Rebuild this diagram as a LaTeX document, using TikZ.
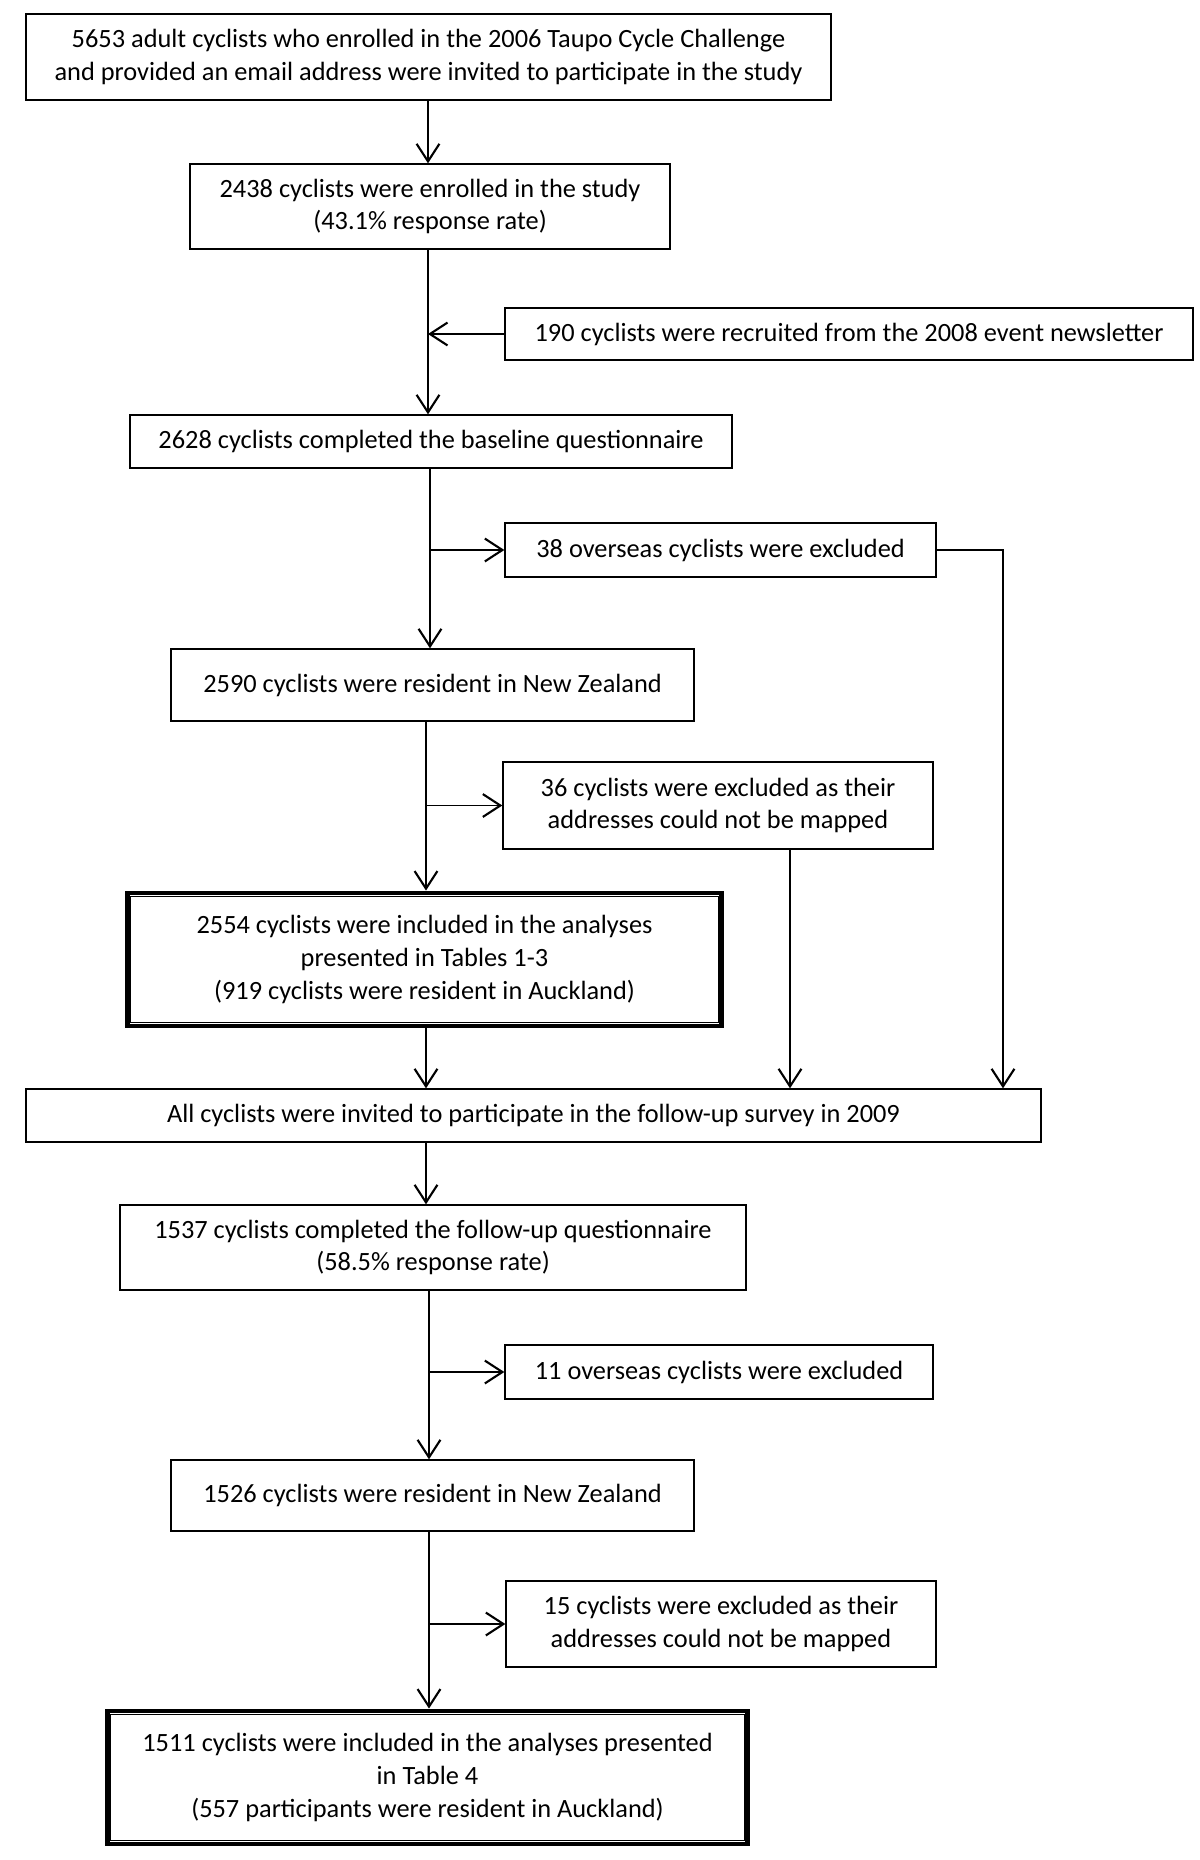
\documentclass[tikz,border=0pt]{standalone}
\usepackage{fontspec}
\setmainfont{Carlito}
\usetikzlibrary{arrows.meta,calc,positioning}

\begin{document}
\begin{tikzpicture}[x=0.02cm, y=-0.02cm,
    every node/.style={font=\fontsize{15}{18.6}\selectfont},
    box/.style={draw, line width=0.8pt, align=center, inner sep=0pt},
    bigbox/.style={box, line width=2.8pt},
    link/.style={line width=1.1pt, -{Straight Barb[length=10pt,width=13pt,line width=1.2pt]}}]
    \useasboundingbox (0,0) rectangle (1200,1860);
    % main column
    \node[box, minimum width=16.1cm, minimum height=1.72cm] (invited) at (428.5,57)
      {5653 adult cyclists who enrolled in the 2006 Taupo Cycle Challenge\\and provided an email address were invited to participate in the study};
    \node[box, minimum width=9.6cm, minimum height=1.7cm] (enrolled) at (430,206.5)
      {2438 cyclists were enrolled in the study\\(43.1\% response rate)};
    \node[box, minimum width=13.76cm, minimum height=1.04cm] (newsl) at (849,334)
      {190 cyclists were recruited from the 2008 event newsletter};
    \node[box, minimum width=12.04cm, minimum height=1.06cm] (baseline) at (431,441.5)
      {2628 cyclists completed the baseline questionnaire};
    \node[box, minimum width=8.62cm, minimum height=1.08cm] (over1) at (720.5,550)
      {38 overseas cyclists were excluded};
    \node[box, minimum width=10.46cm, minimum height=1.44cm] (nz1) at (432.5,685)
      {2590 cyclists were resident in New Zealand};
    \node[box, minimum width=8.6cm, minimum height=1.74cm] (map1) at (718,805.5)
      {36 cyclists were excluded as their\\addresses could not be mapped};
    \node[bigbox, minimum width=11.9cm, minimum height=2.66cm] (anal1) at (424.5,959.5)
      {2554 cyclists were included in the analyses\\presented in Tables 1-3\\(919 cyclists were resident in Auckland)};
    \node[box, minimum width=20.3cm, minimum height=1.06cm] (follow) at (533.5,1115.5)
      {All cyclists were invited to participate in the follow-up survey in 2009};
    \node[box, minimum width=12.52cm, minimum height=1.7cm] (fquest) at (433,1247.5)
      {1537 cyclists completed the follow-up questionnaire\\(58.5\% response rate)};
    \node[box, minimum width=8.56cm, minimum height=1.08cm] (over2) at (719,1372)
      {11 overseas cyclists were excluded};
    \node[box, minimum width=10.46cm, minimum height=1.42cm] (nz2) at (432.5,1495.5)
      {1526 cyclists were resident in New Zealand};
    \node[box, minimum width=8.6cm, minimum height=1.72cm] (map2) at (721,1624)
      {15 cyclists were excluded as their\\addresses could not be mapped};
    \node[bigbox, minimum width=12.82cm, minimum height=2.66cm] (anal2) at (427.5,1777.5)
      {1511 cyclists were included in the analyses presented\\in Table 4\\(557 participants were resident in Auckland)};
    % inner frames of the double boxes
    \draw[line width=0.8pt] ($(anal1.north west)+(6,6)$) rectangle ($(anal1.south east)+(-6,-6)$);
    \draw[line width=0.8pt] ($(anal2.north west)+(6,6)$) rectangle ($(anal2.south east)+(-6,-6)$);
    \coordinate (r1) at (1003,0);
    \coordinate (r2) at (790,0);
    % connectors
    \draw[link] (invited.south -| 428,0) -- (enrolled.north -| 428,0);
    \draw[link] (enrolled.south -| 428,0) -- (baseline.north -| 428,0);
    \draw[link] (newsl.west) -- (newsl.west -| 428,0);
    \draw[link] (baseline.south -| 430,0) -- (nz1.north -| 430,0);
    \draw[link] (over1.west -| 430,0) -- (over1.west);
    \draw[link] (nz1.south -| 426,0) -- (anal1.north -| 426,0);
    \draw[link] (map1.west -| 426,0) -- (map1.west);
    \draw[link] (anal1.south -| 426,0) -- (follow.north -| 426,0);
    \draw[link] (over1.east) -| (follow.north -| r1);
    \draw[link] (map1.south -| r2) -- (follow.north -| r2);
    \draw[link] (follow.south -| 426,0) -- (fquest.north -| 426,0);
    \draw[link] (fquest.south -| 429,0) -- (nz2.north -| 429,0);
    \draw[link] (over2.west -| 429,0) -- (over2.west);
    \draw[link] (nz2.south -| 429,0) -- (anal2.north -| 429,0);
    \draw[link] (map2.west -| 429,0) -- (map2.west);
\end{tikzpicture}
\end{document}
